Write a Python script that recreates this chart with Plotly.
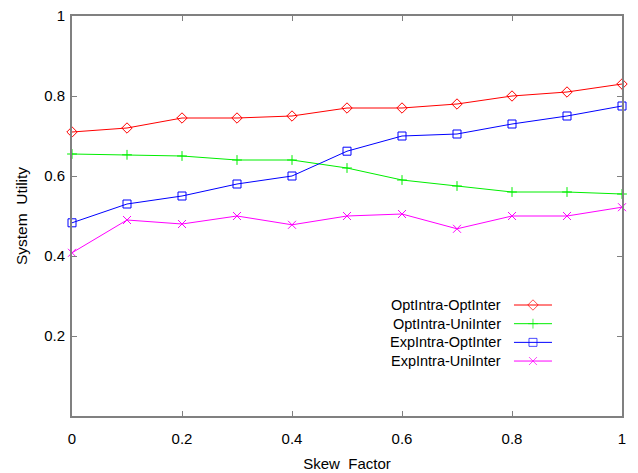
import plotly.graph_objects as go

skew = [0, 0.1, 0.2, 0.3, 0.4, 0.5, 0.6, 0.7, 0.8, 0.9, 1.0]
opt_opt = [0.71, 0.72, 0.745, 0.745, 0.75, 0.77, 0.77, 0.78, 0.80, 0.81, 0.83]
opt_uni = [0.655, 0.653, 0.65, 0.64, 0.64, 0.62, 0.59, 0.575, 0.56, 0.56, 0.555]
exp_opt = [0.483, 0.53, 0.55, 0.58, 0.60, 0.662, 0.70, 0.705, 0.73, 0.75, 0.775]
exp_uni = [0.408, 0.49, 0.48, 0.50, 0.478, 0.50, 0.505, 0.468, 0.50, 0.50, 0.522]

series_names = ["OptIntra-OptInter", "OptIntra-UniInter",
                "ExpIntra-OptInter", "ExpIntra-UniInter"]
series_values = [opt_opt, opt_uni, exp_opt, exp_uni]

x_ticks = [0, 0.2, 0.4, 0.6, 0.8, 1]
x_tick_text = ["0", "0.2", "0.4", "0.6", "0.8", "1"]
y_ticks = [0.2, 0.4, 0.6, 0.8, 1]
y_tick_text = ["0.2", "0.4", "0.6", "0.8", "1"]

# styles
colors = ["#ff0000", "#00ee00", "#0000ff", "#ff00ff"]
symbols = ["diamond-open", "cross-thin-open", "square-open", "x-thin-open"]
sizes = [8, 7, 8, 8]

FONT = "Liberation Sans, Arial, sans-serif"

fig = go.Figure()
for name, ys, color, sym, size in zip(series_names, series_values, colors, symbols, sizes):
    fig.add_trace(go.Scatter(
        x=skew, y=ys, name=name, mode="lines+markers",
        line=dict(color=color, width=1),
        marker=dict(symbol=sym, size=size, color=color,
                    line=dict(color=color, width=1)),
        cliponaxis=False, showlegend=False,
    ))

# Custom legend (text on the left, sample on the right), in plot-area fractions
leg_text_x = 0.7836
leg_line_x0, leg_line_x1 = 0.8036, 0.8727
leg_top, leg_pitch = 0.2775, 0.0467
annotations = []
for i, (name, color, sym, size) in enumerate(zip(series_names, colors, symbols, sizes)):
    yr = leg_top - i * leg_pitch
    fig.add_trace(go.Scatter(
        x=[leg_line_x0, (leg_line_x0 + leg_line_x1) / 2, leg_line_x1],
        y=[yr, yr, yr], mode="lines+markers", xaxis="x2", yaxis="y2",
        line=dict(color=color, width=1),
        marker=dict(symbol=sym, size=[0, size, 0], color=color,
                    line=dict(color=color, width=1)),
        showlegend=False, hoverinfo="skip", cliponaxis=False,
    ))
    annotations.append(dict(
        x=leg_text_x, y=yr, xref="paper", yref="paper", text=name,
        showarrow=False, xanchor="right", yanchor="middle",
        font=dict(family=FONT, size=14.5, color="#000"),
    ))

axis_common = dict(
    showgrid=False, zeroline=False, showline=True, linecolor="#808080",
    linewidth=2, mirror="allticks", ticks="inside", ticklen=5,
    tickcolor="#808080", tickwidth=1, automargin=False,
    tickfont=dict(family=FONT, size=15, color="#000"),
)

fig.update_layout(
    width=638, height=473,
    margin=dict(l=72, r=16, t=16, b=57),
    paper_bgcolor="white", plot_bgcolor="white",
    font=dict(family=FONT, size=14, color="#000"),
    xaxis=dict(range=[0, 1], tickvals=x_ticks, ticktext=x_tick_text,
               ticklabelstandoff=8,
               title=dict(text="Skew\u00a0 Factor", standoff=12,
                          font=dict(family=FONT, size=15)), **axis_common),
    yaxis=dict(range=[0, 1], tickvals=y_ticks, ticktext=y_tick_text,
               ticklabelstandoff=2,
               title=dict(text="System\u00a0 Utility", standoff=13,
                          font=dict(family=FONT, size=15.5)), **axis_common),
    xaxis2=dict(range=[0, 1], overlaying="x", visible=False, fixedrange=True),
    yaxis2=dict(range=[0, 1], overlaying="y", visible=False, fixedrange=True),
    annotations=annotations,
    showlegend=False,
)

fig.write_html("out.html")
